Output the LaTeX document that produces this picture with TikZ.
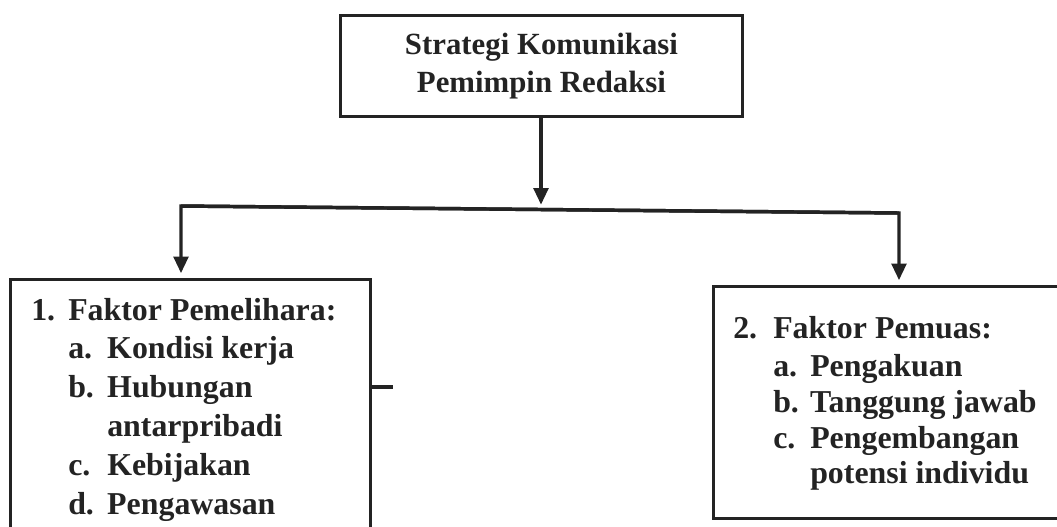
\documentclass[tikz,border=0pt]{standalone}
\usepackage{fontspec}
\setmainfont{Liberation Serif}
\usetikzlibrary{arrows.meta}
\definecolor{ink}{RGB}{35,35,35}

\begin{document}
\begin{tikzpicture}[x=0.75pt,y=-0.75pt,
    kotak/.style={draw=ink,line width=2.2pt,inner sep=0pt,anchor=north west},
    garis/.style={draw=ink,line width=2.6pt},
    panah/.style={garis,-{Triangle[length=12.5pt,width=11pt]},shorten >=3.6pt},
    judul/.style={text=ink,font=\fontsize{23.1}{28.5}\selectfont\bfseries,align=center},
    daftar/.style={text=ink,inner sep=0pt,anchor=base west,font=\fontsize{23.9}{29.1}\selectfont\bfseries}]
\useasboundingbox (0,0) rectangle (1057,526);

% kotak utama
\node[kotak,judul,minimum width=301.5pt,minimum height=75.75pt] (strategi) at (339,14)
    {Strategi Komunikasi\\Pemimpin Redaksi};

% kotak faktor
\node[kotak,minimum width=270pt,minimum height=211.5pt] (pelihara) at (9,278) {};
\node[kotak,minimum width=276pt,minimum height=174pt] (pemuas) at (712,285) {};

\node[daftar] (pelihara isi) at (31,320) {%
\begin{tabular}[t]{@{}p{27.75pt}@{}p{29.25pt}@{}l@{}}
1. & \multicolumn{2}{@{}l@{}}{Faktor Pemelihara:}\\
   & a. & Kondisi kerja\\
   & b. & Hubungan\\
   &    & antarpribadi\\
   & c. & Kebijakan\\
   & d. & Pengawasan
\end{tabular}};

\node[daftar,font=\fontsize{23.9}{26.8}\selectfont\bfseries] (pemuas isi) at (733,338) {%
\begin{tabular}[t]{@{}p{30pt}@{}p{27.75pt}@{}l@{}}
2. & \multicolumn{2}{@{}l@{}}{Faktor Pemuas:}\\[2.2pt]
   & a. & Pengakuan\\
   & b. & Tanggung jawab\\
   & c. & Pengembangan\\
   &    & potensi individu
\end{tabular}};

% percabangan
\coordinate (cabang) at (541,209.5);
\coordinate (cabang kiri) at (181,206);
\coordinate (cabang kanan) at (899,213);
\coordinate (ujung) at (393,387);

\draw[panah] (strategi.south -| cabang) -- (cabang);
\draw[panah,line join=miter] (cabang kanan) -- (cabang kiri) -- (cabang kiri |- pelihara.north);
\draw[panah,line join=miter] (cabang kiri) -- (cabang kanan) -- (cabang kanan |- pemuas.north);
\draw[garis] (ujung -| pelihara.east) -- (ujung);
\end{tikzpicture}
\end{document}
